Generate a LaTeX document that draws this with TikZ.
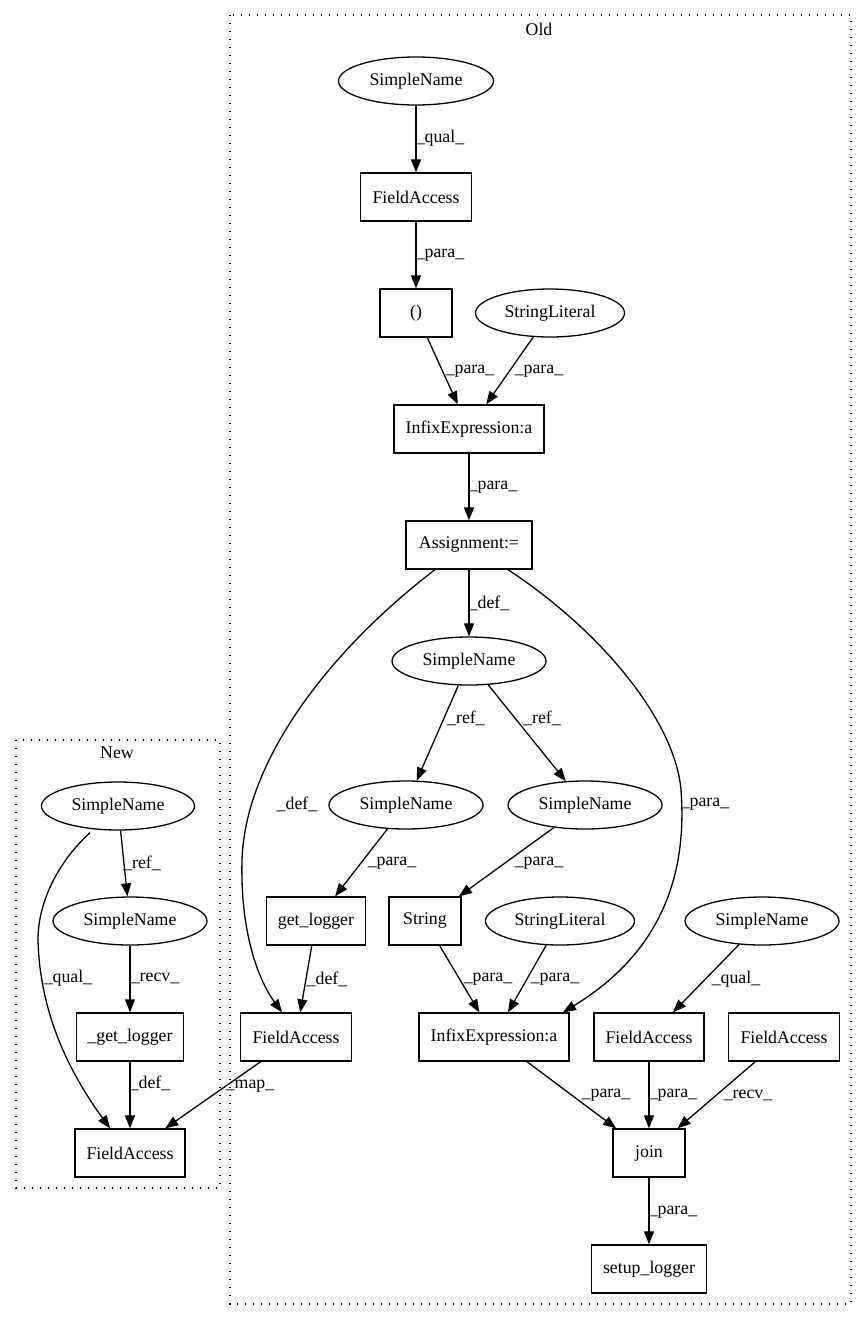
\documentclass[tikz,border=0pt]{standalone}
\usepackage{fontspec}
\setmainfont{Liberation Serif}
\usetikzlibrary{shapes.geometric,arrows.meta,calc}
\begin{document}
\begin{tikzpicture}[x=1pt,y=-1pt,
  font=\fontsize{17.8}{21}\selectfont,
  box/.style={draw, rectangle, minimum height=48, inner sep=0, line width=1.3},
  ell/.style={draw, ellipse, minimum height=48, inner sep=0, line width=1.3},
  e/.style={-{Triangle[length=13,width=10]}, line width=1.3},
  lbl/.style={inner sep=0},
  clus/.style={line width=1.3, dash pattern=on 1.4pt off 6.6pt}]
\useasboundingbox (0,0) rectangle (867,1320);
% clusters
\draw[clus] (230,15) rectangle (851,1304);
\node[lbl] (oldlbl) at (539,29) {Old};
\draw[clus] (16,740) rectangle (220,1188);
\node[lbl] (newlbl) at (117,753) {New};
% Old nodes
\node[ell, minimum width=155] (sn1) at (416,81) {SimpleName};
\node[box, minimum width=111] (fa1) at (416,197) {FieldAccess};
\node[box, minimum width=72] (par) at (416,313) {()};
\node[ell, minimum width=149] (sl1) at (550,313) {StringLiteral};
\node[box, minimum width=150] (ie1) at (469,429) {InfixExpression:a};
\node[box, minimum width=126] (asg) at (469,545) {Assignment:=};
\node[ell, minimum width=154] (sn2) at (469,661) {SimpleName};
\node[ell, minimum width=154] (sn3) at (406,805) {SimpleName};
\node[ell, minimum width=154] (sn4) at (585,805) {SimpleName};
\node[box, minimum width=99] (gl) at (316,921) {get\_logger};
\node[box, minimum width=72] (str) at (425,921) {String};
\node[ell, minimum width=149] (sl2) at (560,921) {StringLiteral};
\node[ell, minimum width=154] (sn5) at (762,921) {SimpleName};
\node[box, minimum width=111] (fa2) at (296,1037) {FieldAccess};
\node[box, minimum width=150] (ie2) at (494,1037) {InfixExpression:a};
\node[box, minimum width=110] (fa3) at (649,1037) {FieldAccess};
\node[box, minimum width=111] (fa4) at (784,1037) {FieldAccess};
\node[box, minimum width=72] (join) at (649,1153) {join};
\node[box, minimum width=115] (setup) at (649,1269) {setup\_logger};
% New nodes
\node[ell, minimum width=153] (nsn1) at (118,806) {SimpleName};
\node[ell, minimum width=154] (nsn2) at (130,921) {SimpleName};
\node[box, minimum width=107] (ngl) at (130,1037) {\_get\_logger};
\node[box, minimum width=110] (nfa) at (130,1153) {FieldAccess};
% Old edges
\draw[e] (sn1) -- (fa1);
\node[lbl] (l1) at (440,138) {\_qual\_};
\draw[e] (fa1) -- (par);
\node[lbl] (l2) at (440,255) {\_para\_};
\draw[e] (par) -- (ie1);
\node[lbl] (l3) at (470,371) {\_para\_};
\draw[e] (sl1) -- (ie1);
\node[lbl] (l4) at (539,371) {\_para\_};
\draw[e] (ie1) -- (asg);
\node[lbl] (l5) at (493,487) {\_para\_};
\draw[e] (asg) -- (sn2);
\node[lbl] (l6) at (489,603) {\_def\_};
\draw[e] (sn2) -- (sn3);
\node[lbl] (l7) at (466,718) {\_ref\_};
\draw[e] (sn2) -- (sn4);
\node[lbl] (l8) at (542,718) {\_ref\_};
\draw[e] (sn3) -- (gl);
\node[lbl] (l9) at (392,863) {\_para\_};
\draw[e] (sn4) -- (str);
\node[lbl] (l10) at (539,863) {\_para\_};
\draw[e] ($(asg.south)+(-34,0)$) .. controls (330,650) and (245,760) .. (242,860)
  .. controls (240,940) and (262,985) .. ($(fa2.north)+(-14,0)$);
\node[lbl] (l11) at (297,804) {\_def\_};
\draw[e] ($(asg.south)+(39,0)$) .. controls (600,630) and (675,720) .. (681,790)
  .. controls (687,870) and (665,950) .. ($(ie2.north)+(69,0)$);
\node[lbl] (l12) at (705,804) {\_para\_};
\draw[e] (gl) -- (fa2);
\node[lbl] (l13) at (327,979) {\_def\_};
\draw[e] (str) -- (ie2);
\node[lbl] (l14) at (488,979) {\_para\_};
\draw[e] (sl2) -- (ie2);
\node[lbl] (l15) at (555,979) {\_para\_};
\draw[e] (sn5) -- (fa3);
\node[lbl] (l16) at (736,979) {\_qual\_};
\draw[e] (ie2) -- (join);
\node[lbl] (l17) at (606,1095) {\_para\_};
\draw[e] (fa3) -- (join);
\node[lbl] (l18) at (673,1095) {\_para\_};
\draw[e] (fa4) -- (join);
\node[lbl] (l19) at (748,1095) {\_recv\_};
\draw[e] (join) -- (setup);
\node[lbl] (l20) at (673,1212) {\_para\_};
\draw[e] (fa2) -- (nfa);
\node[lbl] (l21) at (250,1086) {\_map\_};
% New edges
\draw[e] (nsn1) -- (nsn2);
\node[lbl] (l22) at (142,863) {\_ref\_};
\draw[e] (nsn2) -- (ngl);
\node[lbl] (l23) at (155,978) {\_recv\_};
\draw[e] (ngl) -- (nfa);
\node[lbl] (l24) at (150,1083) {\_def\_};
\draw[e] ($(nsn1.south)+(-28,2)$) .. controls (60,860) and (38,900) .. (38,940)
  .. controls (40,1020) and (75,1080) .. ($(nfa.north)+(-20,0)$);
\node[lbl] (l25) at (68,978) {\_qual\_};
\end{tikzpicture}
\end{document}
